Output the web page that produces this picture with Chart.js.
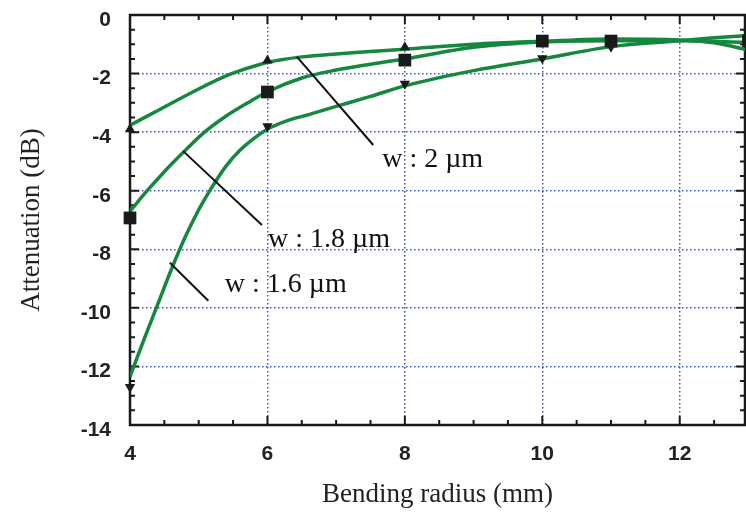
<!DOCTYPE html>
<html>
<head>
<meta charset="utf-8">
<script src="https://cdn.jsdelivr.net/npm/chart.js@4/dist/chart.umd.min.js"></script>
<style>
  html, body { margin: 0; padding: 0; background: #fff; overflow: hidden; }
  #wrap { width: 746px; height: 514px; }
  canvas { display: block; }
</style>
</head>
<body>
<div id="wrap"><canvas id="attenuationChart"></canvas></div>
<script>
// bending radius (mm) vs attenuation (dB)
var xTicks = [4, 6, 8, 10, 12];
var yTicks = [-14, -12, -10, -8, -6, -4, -2, 0];

var radius2 = [4, 4.44, 5.02, 5.46, 5.9, 6.2, 6.5, 7, 7.5, 8, 9, 10, 11, 12, 12.5, 13];
var att2 = [-3.76, -3.22, -2.5, -2.02, -1.68, -1.53, -1.43, -1.33, -1.25, -1.17, -1.0, -0.9, -0.82, -0.85, -0.95, -1.2];

var radius18 = [4, 4.25, 4.5, 4.75, 5.06, 5.4, 5.75, 6, 6.5, 7, 7.5, 8, 9, 10, 11, 12, 13];
var att18 = [-6.7, -6.0, -5.35, -4.75, -4.05, -3.45, -2.95, -2.62, -2.15, -1.88, -1.68, -1.5, -1.1, -0.92, -0.88, -0.88, -0.93];

var radius16 = [4, 4.2, 4.4, 4.6, 4.8, 5.0, 5.2, 5.4, 5.6, 5.8, 6.0, 6.3, 6.6, 7, 7.5, 8, 9, 10, 11, 12, 12.5, 13];
var att16 = [-12.35, -11.1, -9.9, -8.7, -7.6, -6.65, -5.85, -5.15, -4.62, -4.22, -3.9, -3.6, -3.4, -3.12, -2.78, -2.42, -1.9, -1.5, -1.08, -0.88, -0.78, -0.7];

// measured points (markers)
var markRadius = [4, 6, 8, 10, 11];
var mark2 = [-3.9, -1.55, -1.1, -0.9, -0.88];
var markRadius18 = [4, 6, 8, 10, 11, 13];
var mark18 = [-6.93, -2.63, -1.54, -0.89, -0.89, -0.88];
var mark16 = [-12.7, -3.8, -2.35, -1.48, -1.08];

// callouts
var noteText = ['w : 2 \u00b5m', 'w : 1.8 \u00b5m', 'w : 1.6 \u00b5m'];
var noteFrom = [[6.43, -1.43], [4.77, -4.64], [4.58, -8.46]];
var noteTo = [[7.54, -4.44], [5.92, -7.17], [5.14, -9.76]];
var noteAt = [[7.67, -4.95], [6.01, -7.68], [5.38, -9.22]];

function pts(xs, ys) {
    return xs.map(function (x, i) { return { x: x, y: ys[i] }; });
}

var green = '#15873f';

function curve(xs, ys) {
    return {
        data: pts(xs, ys),
        showLine: true,
        borderColor: green,
        borderWidth: 3.5,
        pointRadius: 0,
        cubicInterpolationMode: 'monotone',
        order: 2
    };
}

function marks(xs, ys, style, r, rot) {
    return {
        data: pts(xs, ys),
        showLine: false,
        pointStyle: style,
        pointRadius: r,
        pointRotation: rot,
        backgroundColor: '#1a1a1a',
        borderColor: '#1a1a1a',
        borderWidth: 0,
        clip: false,
        order: 1
    };
}

var frameAndNotes = {
    id: 'frameAndNotes',
    beforeDatasetsDraw: function (chart) {
        var ctx = chart.ctx, a = chart.chartArea;
        var xs = chart.scales.x, ys = chart.scales.y;
        ctx.save();
        ctx.strokeStyle = '#1a1a1a';
        ctx.lineWidth = 2.5;
        ctx.strokeRect(a.left, a.top, a.right - a.left, a.bottom - a.top);
        ctx.lineWidth = 2;
        ctx.beginPath();
        for (var v = 4; v <= 13; v += 0.5) {
            var px = xs.getPixelForValue(v);
            if (px > a.right) break;
            var len = (v % 2 === 0) ? 9 : 5;
            ctx.moveTo(px, a.bottom); ctx.lineTo(px, a.bottom - len);
            ctx.moveTo(px, a.top); ctx.lineTo(px, a.top + len);
        }
        for (var w = -14; w <= 0; w += 0.5) {
            var py = ys.getPixelForValue(w);
            var l2 = (w % 2 === 0) ? 9 : 5;
            ctx.moveTo(a.left, py); ctx.lineTo(a.left + l2, py);
            ctx.moveTo(a.right, py); ctx.lineTo(a.right - l2, py);
        }
        ctx.stroke();
        ctx.restore();
    },
    afterDatasetsDraw: function (chart) {
        var ctx = chart.ctx;
        var xs = chart.scales.x, ys = chart.scales.y;
        ctx.save();
        ctx.strokeStyle = '#111';
        ctx.lineWidth = 2;
        ctx.fillStyle = '#111';
        ctx.font = '28px "Liberation Serif"';
        ctx.textBaseline = 'middle';
        for (var i = 0; i < noteText.length; i++) {
            ctx.beginPath();
            ctx.moveTo(xs.getPixelForValue(noteFrom[i][0]), ys.getPixelForValue(noteFrom[i][1]));
            ctx.lineTo(xs.getPixelForValue(noteTo[i][0]), ys.getPixelForValue(noteTo[i][1]));
            ctx.stroke();
            ctx.fillText(noteText[i], xs.getPixelForValue(noteAt[i][0]), ys.getPixelForValue(noteAt[i][1]));
        }
        ctx.restore();
    }
};

var gridStyle = { color: 'rgba(40, 65, 175, 0.9)', lineWidth: 1.5, drawTicks: false };

new Chart(document.getElementById('attenuationChart'), {
    type: 'scatter',
    data: {
        datasets: [
            marks(markRadius, mark2, 'triangle', 6, 0),
            marks(markRadius18, mark18, 'rect', 9, 0),
            marks(markRadius, mark16, 'triangle', 6, 180),
            curve(radius2, att2),
            curve(radius18, att18),
            curve(radius16, att16)
        ]
    },
    options: {
        responsive: true,
        maintainAspectRatio: false,
        animation: false,
        layout: { autoPadding: false, padding: { top: 15, right: 1, left: 0, bottom: 0 } },
        plugins: { legend: { display: false }, tooltip: { enabled: false } },
        scales: {
            x: {
                type: 'linear',
                min: 4,
                max: 12.95,
                afterBuildTicks: function (s) { s.ticks = xTicks.map(function (v) { return { value: v }; }); },
                afterFit: function (s) { s.height = 89; s.paddingLeft = 0; s.paddingRight = 0; },
                grid: gridStyle,
                border: { display: false, dash: [1.5, 2.5] },
                ticks: { padding: 17, color: '#222', font: { family: 'Liberation Sans', size: 21, weight: 'bold' } },
                title: {
                    display: true,
                    text: 'Bending radius (mm)',
                    color: '#222',
                    font: { family: 'Liberation Serif', size: 27 },
                    padding: { top: 0, bottom: 3 }
                }
            },
            y: {
                type: 'linear',
                min: -14,
                max: 0,
                afterBuildTicks: function (s) { s.ticks = yTicks.map(function (v) { return { value: v }; }); },
                afterFit: function (s) { s.width = 130; s.paddingTop = 0; s.paddingBottom = 0; },
                grid: gridStyle,
                border: { display: false, dash: [1.5, 2.5] },
                ticks: { padding: 19, labelOffset: 5, color: '#222', font: { family: 'Liberation Sans', size: 21, weight: 'bold' } },
                title: {
                    display: true,
                    text: 'Attenuation (dB)',
                    color: '#222',
                    font: { family: 'Liberation Serif', size: 27 },
                    padding: { top: 16, bottom: 0 }
                }
            }
        }
    },
    plugins: [frameAndNotes]
});
</script>
</body>
</html>
